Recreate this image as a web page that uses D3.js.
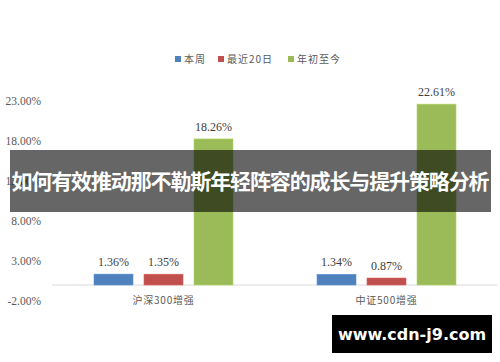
<!DOCTYPE html>
<html><head><meta charset="utf-8">
<script src="https://cdn.jsdelivr.net/npm/d3@7/dist/d3.min.js"></script>
<style>body{margin:0;background:#fff}svg{display:block}</style>
</head><body>
<script>
const categories = ["沪深300增强", "中证500增强"];
const seriesNames = ["本周", "最近20日", "年初至今"];
const seriesColors = ["#4F81BD", "#C0504D", "#9BBB59"];
const weekly = [1.36, 1.34];
const last20 = [1.35, 0.87];
const ytd = [18.26, 22.61];
const tickValues = [-2, 3, 8, 13, 18, 23];
const bannerText = "如何有效推动那不勒斯年轻阵容的成长与提升策略分析";
const watermark = "www.cdn-j9.com";

const W = 500, H = 362;
const svg = d3.select("body").append("svg").attr("width", W).attr("height", H);
const series = [weekly, last20, ytd];

const y = d3.scaleLinear().domain([-2, 23]).range([301, 101]);
const x0 = d3.scaleBand().domain(categories).range([52, 498]).paddingInner(0).paddingOuter(0);
const x1 = d3.scaleBand().domain(seriesNames).range([42, 223 - 42]).paddingInner(0.22).paddingOuter(0);

// y tick labels
const yAxis = d3.axisLeft(y).tickValues(tickValues).tickFormat(d => d.toFixed(2) + "%").tickSize(0).tickPadding(0);
const ga = svg.append("g").attr("transform", "translate(41,0)").call(yAxis);
ga.select(".domain").remove();
ga.selectAll("text").attr("font-family", "'Liberation Serif', 'Times New Roman', serif").attr("font-size", 11.5).attr("fill", "#595959");

// zero baseline
svg.append("line").attr("x1", 52).attr("x2", 497).attr("y1", y(0)).attr("y2", y(0))
  .attr("stroke", "#d9d9d9").attr("stroke-width", 1);

// bars
const groups = svg.selectAll("g.grp").data(categories).join("g").attr("class", "grp")
  .attr("transform", d => `translate(${x0(d)},0)`);
groups.each(function(cat, ci) {
  const g = d3.select(this);
  seriesNames.forEach((s, si) => {
    const v = series[si][ci];
    g.append("rect").attr("x", x1(s)).attr("width", x1.bandwidth())
      .attr("y", y(Math.max(0, v))).attr("height", Math.abs(y(v) - y(0)))
      .attr("fill", seriesColors[si]).attr("stroke", d3.color(seriesColors[si]).brighter(0.4)).attr("stroke-width", 0.6);
    g.append("text").attr("x", x1(s) + x1.bandwidth() / 2).attr("y", y(v) - 8)
      .attr("text-anchor", "middle").attr("font-family", "'Liberation Serif', 'Times New Roman', serif")
      .attr("font-size", 12).attr("fill", "#404040").text(v.toFixed(2) + "%");
  });
  g.append("text").attr("x", x0.bandwidth() / 2).attr("y", 304).attr("text-anchor", "middle")
    .attr("font-family", "'Noto Sans CJK SC', sans-serif").attr("font-size", 10).attr("letter-spacing", 0.8)
    .attr("fill", "#595959").text(cat);
});

// legend
const legendX = [175, 218, 288];
seriesNames.forEach((s, i) => {
  svg.append("rect").attr("x", legendX[i]).attr("y", 56).attr("width", 6).attr("height", 6).attr("fill", seriesColors[i]);
  svg.append("text").attr("x", legendX[i] + 9).attr("y", 63).attr("font-family", "'Noto Sans CJK SC', sans-serif")
    .attr("font-size", 10).attr("letter-spacing", 1).attr("fill", "#595959").text(s);
});

// banner overlay
svg.append("rect").attr("x", 10).attr("y", 150).attr("width", 481).attr("height", 62).attr("fill", "rgba(0,0,0,0.6)");
svg.append("text").attr("x", 250.5).attr("y", 189).attr("text-anchor", "middle")
  .attr("font-family", "'Noto Sans CJK SC', sans-serif").attr("font-weight", "bold")
  .attr("font-size", 21).attr("fill", "#fff").attr("textLength", 478).text(bannerText);

// watermark
svg.append("rect").attr("x", 332).attr("y", 315).attr("width", 160).attr("height", 38).attr("fill", "#000");
svg.append("text").attr("x", 412).attr("y", 340).attr("text-anchor", "middle")
  .attr("font-family", "'DejaVu Sans', sans-serif").attr("font-weight", "bold")
  .attr("font-size", 16).attr("fill", "#fff").text(watermark);
</script>
</body></html>
